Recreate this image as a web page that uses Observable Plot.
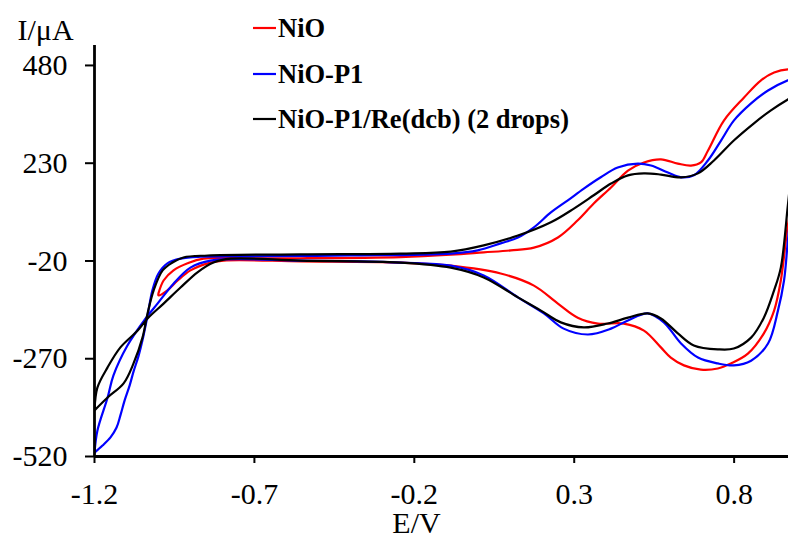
<!DOCTYPE html>
<html><head><meta charset="utf-8">
<script src="https://cdn.jsdelivr.net/npm/d3@7"></script>
<script src="https://cdn.jsdelivr.net/npm/@observablehq/plot@0.6"></script>
<style>
body{margin:0;background:#fff;}
#wrap{position:relative;width:788px;height:537px;}
#legend{position:absolute;left:0;top:0;}
</style></head><body><div id="wrap"></div>
<script>
const seriesNames = ["NiO", "NiO-P1", "NiO-P1/Re(dcb) (2 drops)"];
const seriesColors = ["#ff0000", "#0000ff", "#000000"];
const xTicks = [-1.2, -0.7, -0.2, 0.3, 0.8];
const xTickLabels = ["-1.2", "-0.7", "-0.2", "0.3", "0.8"];
const yTicks = [-520, -270, -20, 230, 480];
const yTickLabels = ["-520", "-270", "-20", "230", "480"];
const xTitle = "E/V";
const yTitle = "I/μA";

// NiO (red): upper (anodic) branch then lower (cathodic) branch
const nioE = [-1.000,-0.984,-0.953,-0.909,-0.859,-0.712,-0.555,-0.243,-0.086,0.017,0.102,0.174,0.249,0.311,0.361,0.415,0.468,0.518,0.571,0.624,0.665,0.696,0.718,0.768,0.831,0.884,0.925,0.968,1.009,
  0.985,0.966,0.946,0.925,0.893,0.843,0.790,0.749,0.696,0.643,0.602,0.571,0.518,0.455,0.374,0.311,0.249,0.174,0.070,-0.086,-0.243,-0.555,-0.796,-0.846,-0.900,-0.940,-0.972,-1.000,-1.000];
const nioI = [-103,-70,-44,-26,-14,-13,-13,-10,-4,2,7,14,40,84,127,168,211,232,240,229,224,232,262,339,398,442,462,470,467,
  160,60,-70,-147,-205,-257,-282,-295,-298,-287,-267,-241,-198,-180,-180,-165,-129,-83,-52,-32,-24,-21,-19,-26,-44,-70,-95,-108,-103];

// NiO-P1 (blue)
const p1E = [-1.200,-1.175,-1.150,-1.131,-1.119,-1.106,-1.090,-1.078,-1.062,-1.050,-1.034,-1.019,-1.000,-0.972,-0.931,-0.868,-0.712,-0.399,-0.086,-0.002,0.070,0.124,0.174,0.227,0.280,0.330,0.383,0.436,0.499,0.540,0.593,0.634,0.674,0.718,0.759,0.799,0.853,0.906,0.968,1.009,
  0.985,0.968,0.956,0.937,0.906,0.853,0.799,0.749,0.687,0.634,0.580,0.530,0.468,0.415,0.343,0.267,0.205,0.124,0.017,-0.086,-0.243,-0.555,-0.837,-0.900,-0.953,-1.003,-1.040,-1.097,-1.141,-1.159,-1.191,-1.200];
const p1I = [-510,-492,-471,-446,-415,-377,-338,-303,-262,-223,-159,-95,-52,-26,-14,-9,-8,-6,-1,7,25,40,66,104,135,165,194,219,229,224,206,194,199,237,288,339,383,416,442,452,
  170,32,-70,-147,-231,-275,-287,-282,-267,-231,-177,-154,-172,-193,-208,-193,-154,-113,-57,-32,-24,-19,-19,-37,-78,-129,-167,-236,-313,-369,-454,-510];

// NiO-P1/Re(dcb) (2 drops) (black)
const reE = [-1.200,-1.159,-1.109,-1.078,-1.050,-1.034,-1.015,-0.987,-0.956,-0.922,-0.846,-0.555,-0.243,-0.086,0.017,0.124,0.227,0.299,0.361,0.415,0.468,0.518,0.571,0.634,0.687,0.737,0.799,0.862,0.915,0.968,1.009,
  0.985,0.968,0.946,0.925,0.893,0.853,0.799,0.749,0.674,0.624,0.571,0.530,0.468,0.405,0.330,0.258,0.196,0.124,0.017,-0.086,-0.243,-0.555,-0.774,-0.828,-0.878,-0.931,-0.984,-1.034,-1.065,-1.119,-1.159,-1.191,-1.200];
const reI = [-402,-369,-333,-282,-216,-154,-95,-44,-24,-11,-6,-3,-1,4,20,45,79,114,148,178,199,204,201,194,204,237,288,332,365,393,411,
  250,122,-37,-95,-165,-216,-244,-246,-236,-205,-167,-154,-165,-180,-190,-177,-147,-113,-62,-37,-24,-19,-14,-24,-49,-88,-129,-167,-198,-241,-292,-344,-402];

const seriesE = [nioE, p1E, reE];
const seriesI = [nioI, p1I, reI];
const rows = [];
seriesNames.forEach((name, k) => {
  seriesE[k].forEach((e, i) => rows.push({E: e, I: seriesI[k][i], series: name}));
});

const serif = '"Liberation Serif", "Times New Roman", serif';

const chart = Plot.plot({
  width: 788, height: 537,
  marginLeft: 94, marginRight: 0, marginTop: 45, marginBottom: 81,
  style: {fontFamily: serif, fontSize: "30px", color: "#000", background: "#fff", overflow: "visible"},
  x: {domain: [-1.2, 0.97]},
  y: {domain: [-520, 531]},
  color: {domain: seriesNames, range: seriesColors},
  marks: [
    Plot.line(rows, {x: "E", y: "I", z: "series", stroke: "series", strokeWidth: 2.2, curve: "catmull-rom", clip: true}),
    Plot.ruleX([-1.2], {strokeWidth: 2.8, stroke: "#000"}),
    Plot.ruleY([-520], {strokeWidth: 2.8, stroke: "#000"}),
    Plot.axisX({ticks: xTicks, tickFormat: d => xTickLabels[xTicks.indexOf(d)], tickSize: 7, tickPadding: 19, fontSize: 30, strokeWidth: 2, label: null}),
    Plot.axisY({ticks: yTicks, tickFormat: d => yTickLabels[yTicks.indexOf(d)], tickSize: 9, tickPadding: 18, fontSize: 30, strokeWidth: 2, label: null}),
    Plot.text([xTitle], {text: d => d, frameAnchor: "bottom", lineAnchor: "bottom", dx: -25, dy: 76, fontSize: 30}),
    Plot.text([yTitle], {text: d => d, frameAnchor: "top-left", textAnchor: "start", lineAnchor: "bottom", dx: -77, dy: -6, fontSize: 30})
  ]
});
const wrap = document.getElementById("wrap");
wrap.appendChild(chart);

// legend overlay
const legendRowsY = [28, 74, 119];
const leg = d3.select(wrap).append("svg").attr("id", "legend").attr("width", 788).attr("height", 140)
  .style("pointer-events", "none");
seriesNames.forEach((name, k) => {
  const cy = legendRowsY[k];
  leg.append("line").attr("x1", 253).attr("x2", 276).attr("y1", cy).attr("y2", cy)
    .attr("stroke", seriesColors[k]).attr("stroke-width", 2.2);
  leg.append("text").attr("x", 278).attr("y", cy + 9).text(name)
    .attr("font-family", serif).attr("font-weight", "bold").attr("font-size", 26.5).attr("fill", "#000");
});
</script>
</body></html>
